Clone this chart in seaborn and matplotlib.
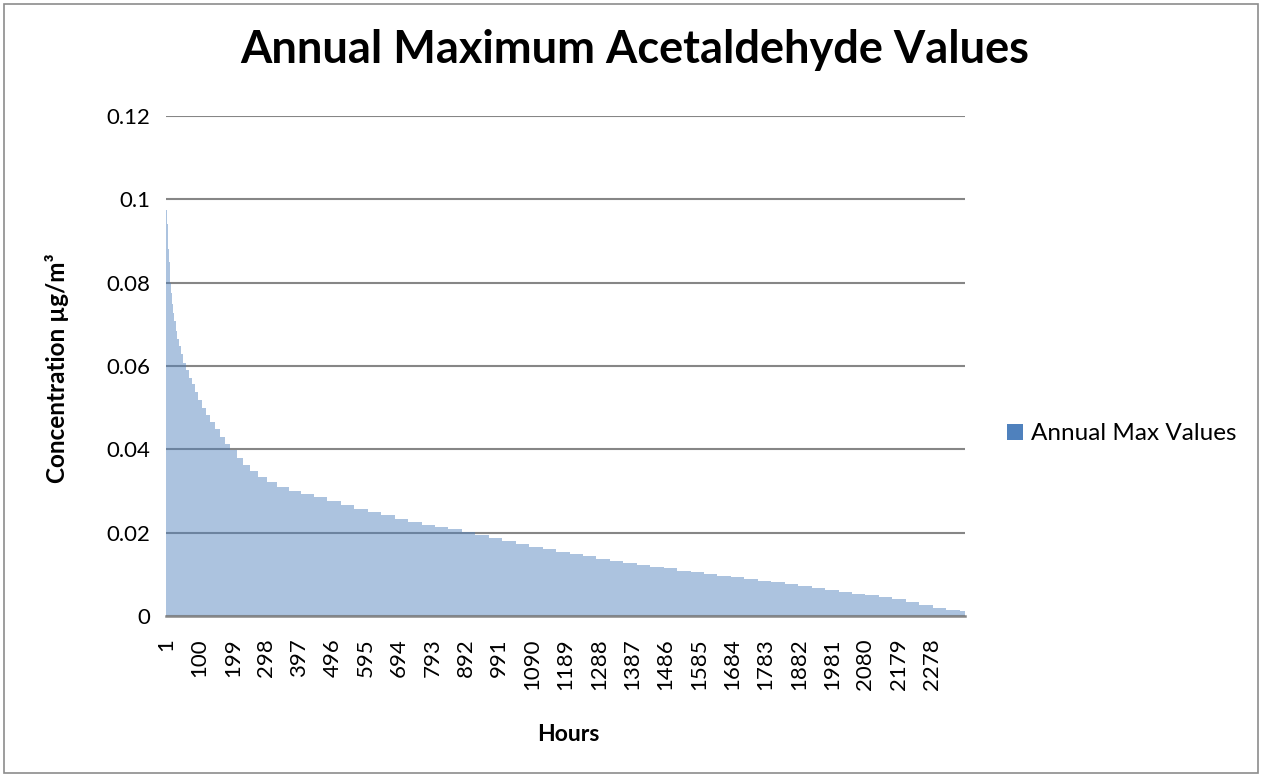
import numpy as np
import pandas as pd
import matplotlib
matplotlib.use("Agg")
import matplotlib.pyplot as plt
from matplotlib.patches import Patch, Rectangle
import seaborn as sns

# ---- data (each block = consecutive hours with ~equal value) ----
block_start = [1, 2, 3, 4, 6, 8, 10, 12, 14, 17, 20, 23, 26, 30, 35, 40, 46, 53, 60, 68,
               77, 87, 97, 108, 120, 133, 147, 161, 176, 191, 211, 231, 251, 276, 301, 331,
               366, 401, 441, 481, 521, 561, 601, 641, 681, 721, 761, 801, 841, 881, 921,
               961, 1001, 1041, 1081, 1121, 1161, 1201, 1241, 1281, 1321, 1361, 1401, 1441,
               1481, 1521, 1561, 1601, 1641, 1681, 1721, 1761, 1801, 1841, 1881, 1921, 1961,
               2001, 2041, 2081, 2121, 2161, 2201, 2241, 2281, 2321, 2361]
block_value = [0.1085, 0.0975, 0.0960, 0.0940, 0.0910, 0.0880, 0.0850, 0.0825, 0.0800, 0.0775,
               0.0750, 0.0728, 0.0708, 0.0685, 0.0665, 0.0648, 0.0628, 0.0608, 0.0590, 0.0572,
               0.0556, 0.0538, 0.0518, 0.0500, 0.0482, 0.0465, 0.0448, 0.0430, 0.0413, 0.0398,
               0.0380, 0.0363, 0.0348, 0.0334, 0.0322, 0.0310, 0.0300, 0.0293, 0.0285, 0.0275,
               0.0266, 0.0258, 0.0250, 0.0242, 0.0233, 0.0226, 0.0219, 0.0213, 0.0208, 0.0202,
               0.0194, 0.0186, 0.0179, 0.0173, 0.0166, 0.0160, 0.0154, 0.0149, 0.0144, 0.0138,
               0.0133, 0.0128, 0.0123, 0.0118, 0.0114, 0.0109, 0.0105, 0.0101, 0.0097, 0.0093,
               0.0089, 0.0085, 0.0081, 0.0077, 0.0072, 0.0068, 0.0063, 0.0058, 0.0054, 0.0050,
               0.0045, 0.0040, 0.0034, 0.0027, 0.0020, 0.0015, 0.0011]
last_hour = 2376
x_tick_labels = [1, 100, 199, 298, 397, 496, 595, 694, 793, 892, 991, 1090, 1189, 1288,
                 1387, 1486, 1585, 1684, 1783, 1882, 1981, 2080, 2179, 2278]
y_ticks = [0, 0.02, 0.04, 0.06, 0.08, 0.1, 0.12]
y_tick_labels = ["0", "0.02", "0.04", "0.06", "0.08", "0.1", "0.12"]

title = "Annual Maximum Acetaldehyde Values"
series_name = "Annual Max Values"

df = pd.DataFrame({"hour": block_start, "value": block_value})
edges = [h - 0.5 for h in block_start] + [last_hour + 0.5]

# ---- style ----
sns.set_theme(style="white")
plt.rcParams["font.family"] = ["Lato", "DejaVu Sans"]
plt.rcParams["text.color"] = "black"
plt.rcParams["xtick.color"] = "black"
plt.rcParams["ytick.color"] = "black"
plt.rcParams["axes.labelcolor"] = "black"

W, H = 1263, 778
fig = plt.figure(figsize=(W / 100, H / 100), dpi=100)
ax = fig.add_axes([166 / W, (H - 616) / H, 799 / W, 500 / H])

bar_color = "#4F81BD"
grid_color = "#868686"

sns.histplot(data=df, x="hour", weights="value", bins=edges, ax=ax,
             color=bar_color, alpha=0.47, linewidth=0, element="bars", fill=True)

ax.set_xlim(0.5, last_hour + 0.5)
ax.set_ylim(0, 0.12)
ax.set_yticks(y_ticks)
ax.set_yticklabels(y_tick_labels, fontsize=16)
ax.set_xticks(x_tick_labels)
ax.set_xticklabels([str(v) for v in x_tick_labels], rotation=90, fontsize=16)
ax.tick_params(axis="both", length=0)
ax.tick_params(axis="y", pad=11)
ax.tick_params(axis="x", pad=16)

ax.set_axisbelow(True)
ax.yaxis.grid(True, color=grid_color, linewidth=1.5)
ax.xaxis.grid(False)
for s in ["left", "right", "top"]:
    ax.spines[s].set_visible(False)
ax.spines["bottom"].set_color(grid_color)
ax.spines["bottom"].set_linewidth(1.8)
ax.spines["bottom"].set_zorder(5)

ax.set_xlabel("Hours", fontsize=16.5, fontweight="bold")
ax.xaxis.set_label_coords((568 - 166) / 799, -(724 - 616) / 500)
ax.set_ylabel("Concentration µg/m³", fontsize=17.5, fontweight="bold")
ax.yaxis.set_label_coords(-(166 - 69) / 799, (616 - 368) / 500)

fig.text(635 / W, 1 - 50 / H, title, ha="center", va="center",
         fontsize=32.5, fontweight="bold")

handle = Patch(facecolor=bar_color, edgecolor="none")
fig.legend([handle], [series_name], loc="center left",
           bbox_to_anchor=(1007 / W, 1 - 434 / H), frameon=False,
           fontsize=17.5, handlelength=0.65, handleheight=0.65, handletextpad=0.35,
           borderpad=0, borderaxespad=0)

fig.patches.append(Rectangle((4 / W, 5 / H), 1254 / W, 769 / H, transform=fig.transFigure,
                             fill=False, edgecolor="#8C8C8C", linewidth=1.2))

fig.savefig("out.png", dpi=100)
